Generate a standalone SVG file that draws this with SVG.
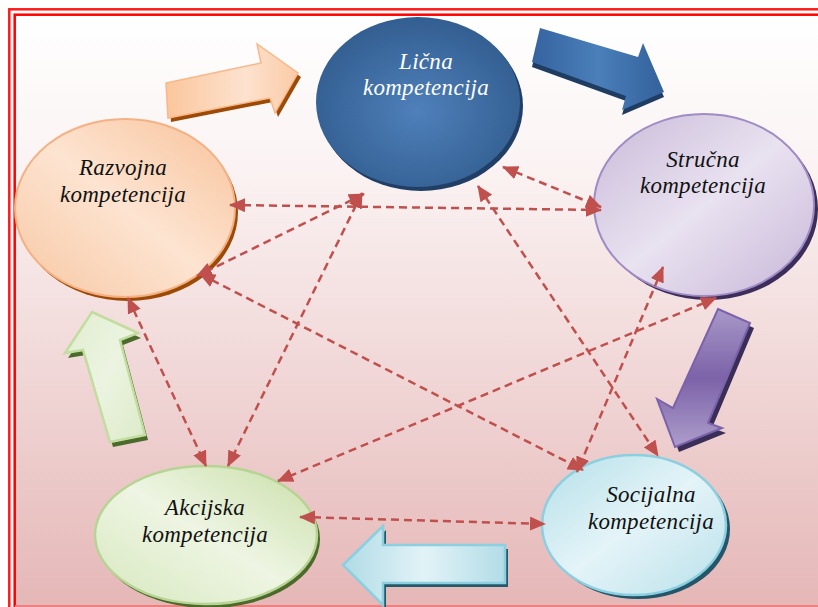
<svg xmlns="http://www.w3.org/2000/svg" width="818" height="607" viewBox="0 0 818 607">
<defs>
<linearGradient id="bg" x1="0" y1="0" x2="0" y2="1">
<stop offset="0" stop-color="#ffffff"/>
<stop offset="0.25" stop-color="#fbf3f3"/>
<stop offset="1" stop-color="#e5b6b6"/>
</linearGradient>
<radialGradient id="gBlue" cx="0.5" cy="0.55" r="0.6">
<stop offset="0" stop-color="#4f80ba"/>
<stop offset="1" stop-color="#305b8d"/>
</radialGradient>
<linearGradient id="gPurple" x1="0" y1="0" x2="1" y2="1">
<stop offset="0" stop-color="#c9bad9"/>
<stop offset="0.5" stop-color="#e9e2f0"/>
<stop offset="1" stop-color="#c7b6d8"/>
</linearGradient>
<linearGradient id="gPeach" x1="1" y1="0" x2="0" y2="1">
<stop offset="0" stop-color="#f8c29a"/>
<stop offset="0.5" stop-color="#fde4d1"/>
<stop offset="1" stop-color="#f7c7a3"/>
</linearGradient>
<linearGradient id="gGreen" x1="1" y1="0" x2="0" y2="1">
<stop offset="0" stop-color="#c9dfa8"/>
<stop offset="0.5" stop-color="#eef5e3"/>
<stop offset="1" stop-color="#d7e8be"/>
</linearGradient>
<linearGradient id="gCyan" x1="0" y1="0" x2="1" y2="1">
<stop offset="0" stop-color="#b4dfe9"/>
<stop offset="0.5" stop-color="#e4f4f8"/>
<stop offset="1" stop-color="#b9e0ea"/>
</linearGradient>
<linearGradient id="aPeach" x1="0" y1="0" x2="1" y2="0">
<stop offset="0" stop-color="#fbc69c"/>
<stop offset="0.6" stop-color="#fde2cf"/>
<stop offset="1" stop-color="#fbcaa6"/>
</linearGradient>
<linearGradient id="aBlue" x1="0" y1="0" x2="1" y2="0">
<stop offset="0" stop-color="#3563a0"/>
<stop offset="0.5" stop-color="#4a7fba"/>
<stop offset="1" stop-color="#33619b"/>
</linearGradient>
<linearGradient id="aPurple" x1="0" y1="0" x2="0" y2="1">
<stop offset="0" stop-color="#a898c8"/>
<stop offset="0.5" stop-color="#7c62a8"/>
<stop offset="1" stop-color="#ad9dcb"/>
</linearGradient>
<linearGradient id="aGreen" x1="0" y1="0" x2="1" y2="1">
<stop offset="0" stop-color="#e0edcf"/>
<stop offset="0.5" stop-color="#ecf4e1"/>
<stop offset="1" stop-color="#dceac8"/>
</linearGradient>
<linearGradient id="aCyan" x1="0" y1="0" x2="1" y2="0">
<stop offset="0" stop-color="#b0dbe6"/>
<stop offset="0.5" stop-color="#e2f3f7"/>
<stop offset="1" stop-color="#b3dce7"/>
</linearGradient>
<marker id="ah" markerUnits="userSpaceOnUse" markerWidth="16" markerHeight="14" viewBox="0 0 16 14" refX="15" refY="7" orient="auto-start-reverse">
<path d="M0,0 L16,7 L0,14 z" fill="#c0504d"/>
</marker>
<style>
.lbl{font-family:"Liberation Serif","Times New Roman",serif;font-style:italic;font-size:23px;letter-spacing:0.3px;text-anchor:middle;fill:#111}
.con{fill:none;stroke:#c0504d;stroke-width:2.5;stroke-dasharray:8 5;marker-start:url(#ah);marker-end:url(#ah)}
</style>
</defs>

<rect x="0" y="0" width="818" height="607" fill="#ffffff"/>
<rect x="15" y="15" width="810" height="600" fill="url(#bg)"/>
<rect x="9.3" y="9.3" width="820" height="610" fill="none" stroke="#ff1a1a" stroke-width="2.5"/>
<rect x="14.7" y="14.7" width="815" height="600" fill="none" stroke="#ff0000" stroke-width="2.5"/>
<line x1="15" y1="606" x2="818" y2="606" stroke="#f08080" stroke-width="2"/>

<g id="arrow-top-left">
<polygon points="166,83 261,63 257,44 298,73 275,113 270,98 168,118" fill="#9c4a06" transform="translate(3,4)"/>
<polygon points="166,83 261,63 257,44 298,73 275,113 270,98 168,118" fill="url(#aPeach)" stroke="#f8b88a" stroke-width="1.5"/>
</g>
<g id="arrow-top-right">
<polygon points="540,28 638,57 643,43 664,92 622,110 626,96 532,62" fill="#1f3d62" transform="translate(0,5)"/>
<polygon points="540,28 638,57 643,43 664,92 622,110 626,96 532,62" fill="url(#aBlue)"/>
</g>
<g id="arrow-right">
<polygon points="718,309 750,323 708,423 722,428 675,447 657,399 673,408" fill="#3a2d58" transform="translate(4,5)"/>
<polygon points="718,309 750,323 708,423 722,428 675,447 657,399 673,408" fill="url(#aPurple)" stroke="#7a63ab" stroke-width="2"/>
</g>
<g id="arrow-left">
<polygon points="92,312 138,333 120,340 145,435 110,442 83,350 65,353" fill="#4a6b2a" transform="translate(3,5)"/>
<polygon points="92,312 138,333 120,340 145,435 110,442 83,350 65,353" fill="url(#aGreen)" stroke="#c3dca0" stroke-width="2.5"/>
</g>
<g id="arrow-bottom">
<polygon points="343,565 383,526 383,545 505,545 505,583 383,583 383,605" fill="#235a6b" transform="translate(3,4)"/>
<polygon points="343,565 383,526 383,545 505,545 505,583 383,583 383,605" fill="url(#aCyan)" stroke="#8ccfe0" stroke-width="2.5"/>
</g>

<g id="node-licna">
<ellipse cx="421" cy="106" rx="102" ry="85" fill="#213f66"/>
<ellipse cx="418" cy="102" rx="102" ry="85" fill="url(#gBlue)"/>
<text class="lbl" x="426" y="69" style="fill:#ffffff">Lična</text>
<text class="lbl" x="426" y="95" style="fill:#ffffff">kompetencija</text>
</g>
<g id="node-strucna">
<ellipse cx="708" cy="209" rx="110" ry="91" fill="#3d2d5a"/>
<ellipse cx="704" cy="205" rx="110" ry="91" fill="url(#gPurple)" stroke="#9f8cc4" stroke-width="2"/>
<text class="lbl" x="703" y="167">Stručna</text>
<text class="lbl" x="703" y="193">kompetencija</text>
</g>
<g id="node-razvojna">
<ellipse cx="128" cy="212" rx="110" ry="89" fill="#9c4a06"/>
<ellipse cx="125" cy="208" rx="110" ry="89" fill="url(#gPeach)" stroke="#f5b183" stroke-width="2"/>
<text class="lbl" x="123" y="175">Razvojna</text>
<text class="lbl" x="123" y="202">kompetencija</text>
</g>
<g id="node-akcijska">
<ellipse cx="209" cy="539" rx="111" ry="69" fill="#4c6a2a"/>
<ellipse cx="206" cy="535" rx="111" ry="69" fill="url(#gGreen)" stroke="#b6d494" stroke-width="2.5"/>
<text class="lbl" x="205" y="515">Akcijska</text>
<text class="lbl" x="205" y="542">kompetencija</text>
</g>
<g id="node-socijalna">
<ellipse cx="638" cy="529" rx="92" ry="70" fill="#24566a"/>
<ellipse cx="634" cy="525" rx="92" ry="70" fill="url(#gCyan)" stroke="#8ccfe0" stroke-width="2.5"/>
<text class="lbl" x="651" y="502">Socijalna</text>
<text class="lbl" x="651" y="529">kompetencija</text>
</g>

<g id="connectors">
<line class="con" x1="230" y1="205" x2="601" y2="210"/>
<line class="con" x1="503" y1="167" x2="601" y2="207"/>
<line class="con" x1="362" y1="193" x2="228" y2="466"/>
<line class="con" x1="364" y1="194" x2="197" y2="276"/>
<line class="con" x1="478" y1="186" x2="658" y2="456"/>
<line class="con" x1="200" y1="274" x2="583" y2="470"/>
<line class="con" x1="128" y1="298" x2="206" y2="466"/>
<line class="con" x1="716" y1="298" x2="278" y2="481"/>
<line class="con" x1="663" y1="267" x2="577" y2="472"/>
<line class="con" x1="300" y1="517" x2="545" y2="524"/>
</g>
</svg>
